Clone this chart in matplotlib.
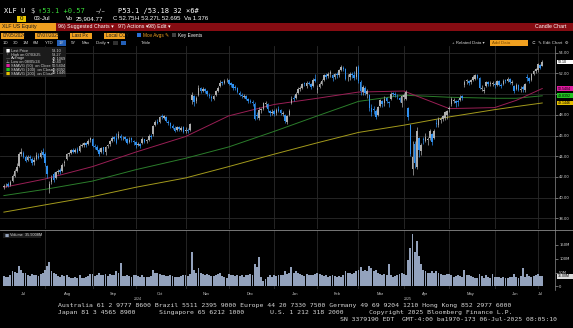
import matplotlib
matplotlib.use('Agg')
import matplotlib.pyplot as plt
from matplotlib.patches import Rectangle
from matplotlib.transforms import blended_transform_factory
import numpy as np
import pandas as pd

# ---- data (XLF US Equity, daily, 05 Jul 2024 - 03 Jul 2025) ----
holidays = ['2024-09-02', '2024-11-28', '2024-12-25', '2025-01-01', '2025-01-09',
            '2025-01-20', '2025-02-17', '2025-04-18', '2025-05-26', '2025-06-19']

opens = [
    41.00, 41.20, 41.30, 41.20, 41.60, 42.10, 42.60, 43.10, 44.20, 44.30, 43.90, 43.60, 43.95, 43.70, 43.40, 43.70, 44.05, 43.90, 44.40,
    44.20, 43.10, 40.90, 41.50, 42.30, 41.90, 42.50, 42.65, 42.60, 43.30, 43.70, 44.20, 44.30, 44.60, 44.40, 44.70, 44.50, 45.00, 45.05, 45.30, 45.20, 45.60,
    45.70, 44.95, 44.90, 44.65, 44.40, 44.85, 44.40, 44.95, 45.15, 45.50, 45.85, 45.75, 45.80, 46.00, 45.85, 45.90, 45.70, 45.40, 45.75, 45.50,
    45.40, 45.10, 45.15, 45.30, 45.65, 45.45, 45.60, 45.95, 46.10, 47.00, 47.35, 47.30, 47.90, 47.70, 47.80, 47.35, 47.20, 46.95, 46.75, 46.50, 46.85, 46.55, 46.80,
    46.40, 46.55, 46.50, 49.40, 49.80, 49.30, 49.90, 50.55, 50.35, 50.50, 50.30, 49.95, 49.70, 49.55, 49.90, 50.35, 50.80, 51.15, 51.10, 51.35,
    51.40, 51.05, 50.95, 50.65, 50.55, 50.15, 49.95, 49.75, 49.85, 49.55, 49.30, 49.25, 49.05, 48.00, 47.70, 48.45, 48.60, 49.05, 49.00, 48.40, 48.20,
    48.40, 48.15, 48.60, 48.45, 48.10, 48.00, 47.30, 48.00, 49.10, 49.60, 49.60, 50.10, 50.50, 50.60, 51.05, 50.80, 51.10, 51.00, 50.80, 51.50,
    50.40, 50.70, 51.00, 51.40, 51.85, 51.75, 51.90, 51.80, 51.65, 51.95, 51.85, 52.30, 52.55, 52.40, 51.55, 51.65, 51.95, 51.85, 51.70,
    52.60, 51.20, 50.20, 50.60, 50.00, 49.90, 48.70, 48.60, 48.40, 48.00, 48.90, 49.30, 49.10, 49.60, 49.20, 49.50, 50.10, 50.00, 49.85, 49.60, 49.10,
    49.70, 49.50, 48.70, 47.00, 42.80, 45.20, 43.00, 45.80, 44.50, 45.70, 45.50, 45.60, 45.80, 46.10, 45.80, 47.20, 47.00, 47.50, 47.60, 47.70, 48.00,
    48.60, 49.00, 49.30, 49.30, 49.30, 49.40, 49.80, 50.90, 51.30, 51.30, 51.20, 51.40, 51.50, 51.80, 51.60, 50.50, 50.30, 50.80, 51.20, 51.00, 51.00,
    51.00, 50.90, 51.30, 50.90, 51.00, 51.35, 51.30, 51.50, 51.10, 50.80, 50.50, 50.90, 50.40, 50.70, 50.40, 51.70, 51.60, 51.40, 51.90, 52.20,
    52.30, 52.80, 52.75,
]
highs = [
    41.35, 41.45, 41.50, 41.70, 42.30, 42.80, 43.30, 44.40, 44.80, 44.50, 44.10, 44.10, 44.10, 43.90, 43.90, 44.40, 44.30, 44.60, 44.80,
    44.40, 43.20, 41.60, 42.20, 42.50, 42.60, 42.80, 42.90, 43.30, 43.60, 44.30, 44.40, 44.70, 44.80, 44.80, 44.90, 45.20, 45.30, 45.40, 45.40, 45.70, 45.90,
    45.80, 45.20, 45.10, 44.80, 44.90, 44.90, 45.00, 45.20, 45.60, 45.95, 46.00, 46.20, 46.40, 46.10, 46.00, 46.00, 45.80, 45.90, 45.90, 45.60,
    45.50, 45.40, 45.30, 45.90, 45.70, 45.70, 46.10, 46.10, 47.00, 47.50, 47.60, 47.90, 48.10, 48.00, 47.90, 47.50, 47.30, 47.10, 46.90, 46.95, 46.90, 46.90, 46.90,
    46.80, 46.70, 47.20, 50.20, 49.90, 49.80, 50.90, 50.70, 50.70, 50.60, 50.40, 50.10, 49.90, 49.90, 50.40, 50.80, 51.40, 51.30, 51.50, 51.60,
    51.50, 51.20, 51.00, 50.90, 50.70, 50.30, 50.10, 50.00, 49.90, 49.60, 49.50, 49.40, 49.20, 48.30, 48.80, 48.70, 49.20, 49.30, 49.10, 48.50, 48.60,
    48.60, 48.70, 48.90, 48.60, 48.40, 48.10, 48.00, 48.60, 49.80, 49.90, 50.20, 50.70, 50.80, 51.10, 51.20, 51.30, 51.30, 51.10, 51.60, 51.90,
    50.90, 51.20, 51.50, 51.90, 52.00, 52.10, 52.30, 51.90, 52.00, 52.10, 52.40, 52.80, 52.70, 52.50, 51.90, 52.10, 52.10, 52.20, 52.70,
    52.80, 51.40, 50.90, 50.80, 50.50, 50.00, 49.00, 48.90, 48.60, 48.90, 49.50, 49.40, 49.80, 49.70, 49.30, 50.20, 50.20, 50.20, 50.00, 49.70, 49.90,
    50.10, 50.40, 48.80, 47.10, 45.50, 45.50, 46.80, 45.90, 45.30, 45.90, 46.20, 45.90, 46.60, 46.20, 46.60, 47.60, 47.80, 47.80, 48.00, 48.40, 48.50,
    48.90, 49.70, 49.60, 49.40, 49.50, 49.90, 49.90, 51.40, 51.50, 51.40, 51.50, 51.80, 51.90, 51.90, 51.70, 50.90, 50.70, 51.30, 51.30, 51.30, 51.30,
    51.20, 51.40, 51.40, 51.10, 51.50, 51.50, 51.70, 51.60, 51.40, 50.90, 51.10, 51.00, 50.80, 50.90, 51.10, 51.90, 51.70, 52.00, 52.30, 52.50,
    53.00, 52.90, 53.27,
]
lows = [
    40.85, 41.00, 41.00, 41.10, 41.50, 42.00, 42.50, 43.00, 44.00, 43.80, 43.40, 43.50, 43.60, 43.20, 43.20, 43.60, 43.70, 43.80, 43.90,
    43.10, 41.90, 40.40, 41.30, 41.50, 41.80, 42.30, 42.30, 42.50, 43.10, 43.60, 44.00, 44.20, 44.30, 44.30, 44.30, 44.40, 44.90, 44.90, 44.90, 45.10, 45.40,
    44.90, 44.70, 44.50, 44.00, 44.30, 44.20, 44.10, 44.80, 45.00, 45.40, 45.50, 45.20, 45.70, 45.60, 45.60, 45.50, 45.20, 45.30, 45.40, 45.10,
    44.80, 45.00, 44.80, 45.20, 45.30, 45.30, 45.50, 45.70, 46.00, 46.90, 47.10, 47.20, 47.60, 47.60, 47.30, 47.00, 46.70, 46.60, 46.30, 46.40, 46.40, 46.40, 46.20,
    46.20, 46.20, 46.40, 49.00, 48.90, 49.10, 49.80, 50.10, 50.20, 50.10, 49.80, 49.60, 49.30, 49.40, 49.80, 50.20, 50.70, 50.90, 51.00, 51.20,
    50.90, 50.70, 50.40, 50.40, 50.10, 49.80, 49.60, 49.60, 49.40, 49.10, 49.10, 48.90, 47.50, 47.60, 47.50, 48.20, 48.50, 48.80, 48.30, 47.90, 48.00,
    47.90, 48.00, 48.30, 48.00, 47.90, 47.20, 47.10, 47.90, 49.00, 49.30, 49.50, 50.00, 50.30, 50.50, 50.80, 50.60, 50.90, 50.50, 50.70, 51.20,
    50.10, 50.60, 50.90, 51.30, 51.50, 51.60, 51.70, 51.30, 51.50, 51.60, 51.70, 52.20, 52.20, 51.40, 51.30, 51.40, 51.60, 51.40, 51.50,
    51.10, 49.90, 49.90, 49.90, 49.60, 48.40, 47.90, 48.10, 47.60, 47.90, 48.80, 48.80, 48.90, 49.10, 48.80, 49.40, 49.80, 49.70, 49.50, 49.20, 48.80,
    49.40, 49.40, 47.50, 44.00, 42.20, 42.90, 42.80, 43.90, 44.10, 45.20, 45.40, 45.10, 45.60, 45.10, 45.70, 46.80, 46.80, 47.20, 47.40, 47.50, 47.60,
    48.30, 48.90, 49.10, 48.80, 48.90, 49.30, 49.40, 50.70, 51.00, 50.90, 51.00, 51.30, 51.40, 51.50, 50.50, 50.30, 50.10, 50.70, 50.80, 50.80, 50.80,
    50.60, 50.80, 50.80, 50.60, 50.90, 51.10, 51.20, 51.00, 50.90, 50.10, 50.40, 50.30, 50.20, 50.20, 50.20, 51.30, 51.10, 51.30, 51.80, 52.00,
    52.10, 52.40, 52.695,
]
closes = [
    41.10, 41.25, 41.15, 41.50, 42.05, 42.55, 43.00, 44.25, 44.40, 43.95, 43.55, 43.90, 43.80, 43.30, 43.60, 44.10, 43.85, 44.35, 44.10,
    43.30, 42.30, 41.30, 41.90, 41.70, 42.50, 42.60, 42.45, 43.20, 43.40, 44.20, 44.30, 44.60, 44.40, 44.65, 44.40, 45.00, 45.10, 45.25, 45.10, 45.50, 45.75,
    45.00, 44.90, 44.60, 44.20, 44.80, 44.55, 44.90, 45.10, 45.50, 45.80, 45.70, 45.30, 46.10, 45.80, 45.90, 45.65, 45.30, 45.60, 45.60, 45.40,
    45.10, 45.20, 45.00, 45.70, 45.40, 45.55, 46.00, 45.90, 46.90, 47.30, 47.25, 47.80, 47.75, 47.85, 47.40, 47.20, 46.90, 46.70, 46.40, 46.80, 46.60, 46.75, 46.30,
    46.50, 46.40, 47.10, 49.90, 49.20, 49.60, 50.60, 50.30, 50.50, 50.30, 50.00, 49.80, 49.60, 49.80, 50.30, 50.60, 51.10, 51.10, 51.30, 51.40,
    51.00, 50.90, 50.60, 50.55, 50.20, 49.90, 49.80, 49.85, 49.50, 49.30, 49.25, 49.10, 47.60, 47.90, 48.50, 48.55, 49.10, 49.10, 48.60, 48.20, 48.30,
    48.10, 48.50, 48.40, 48.20, 48.20, 47.40, 47.90, 48.40, 49.50, 49.50, 50.00, 50.50, 50.60, 51.00, 51.00, 51.10, 51.00, 50.70, 51.40, 51.30,
    50.60, 51.00, 51.30, 51.80, 51.70, 51.90, 52.10, 51.60, 51.90, 51.80, 52.30, 52.60, 52.40, 51.50, 51.60, 51.90, 51.80, 51.60, 52.60,
    51.30, 50.30, 50.70, 50.10, 50.30, 48.70, 48.30, 48.50, 47.80, 48.80, 49.40, 49.00, 49.50, 49.30, 49.10, 50.00, 50.00, 49.90, 49.80, 49.40, 49.80,
    49.90, 50.20, 47.80, 44.20, 43.90, 43.30, 46.40, 44.60, 45.10, 45.60, 45.90, 45.60, 46.40, 45.40, 46.40, 47.10, 47.60, 47.60, 47.90, 48.30, 48.40,
    48.70, 49.50, 49.40, 49.10, 49.20, 49.60, 49.60, 51.20, 51.30, 51.10, 51.40, 51.70, 51.80, 51.60, 50.60, 50.60, 50.40, 51.20, 51.00, 51.10, 51.10,
    50.90, 51.30, 50.90, 50.80, 51.30, 51.30, 51.50, 51.20, 51.20, 50.30, 50.90, 50.40, 50.50, 50.50, 51.00, 51.60, 51.30, 51.90, 52.20, 52.40,
    52.90, 52.53, 53.10,
]
volumes_m = [
    38, 35, 33, 40, 55, 52, 48, 72, 58, 50, 47, 40, 36, 45, 42, 40, 38, 45, 50,
    60, 75, 88, 55, 48, 45, 38, 33, 40, 38, 42, 35, 30, 30, 33, 32, 40, 30, 32, 35, 38, 45,
    45, 38, 40, 48, 42, 40, 45, 38, 45, 42, 40, 55, 50, 85, 38, 36, 40, 38, 35, 40,
    40, 38, 35, 40, 35, 33, 35, 38, 60, 50, 48, 45, 42, 40, 38, 36, 40, 38, 35, 33, 35, 38, 42,
    40, 38, 45, 125, 60, 50, 65, 48, 45, 42, 45, 40, 38, 38, 42, 45, 50, 38, 35, 30,
    45, 40, 42, 38, 40, 38, 40, 35, 40, 42, 45, 40, 80, 70, 105, 35, 20, 28, 35, 40, 35,
    40, 38, 42, 40, 40, 55, 45, 48, 70, 50, 55, 48, 45, 40, 38, 45, 40, 42, 40, 45,
    50, 45, 40, 38, 42, 35, 38, 42, 38, 35, 38, 35, 40, 55, 50, 48, 45, 50, 55,
    60, 70, 55, 60, 55, 75, 65, 55, 60, 50, 45, 40, 45, 40, 80, 40, 35, 38, 40, 45, 50,
    45, 42, 95, 140, 190, 125, 165, 110, 80, 60, 55, 48, 50, 55, 48, 55, 50, 45, 40, 42, 45,
    45, 40, 35, 38, 40, 38, 35, 60, 42, 40, 38, 35, 30, 32, 45, 38, 32, 40, 35, 32, 45,
    35, 33, 35, 32, 35, 30, 32, 35, 33, 45, 35, 32, 38, 65, 35, 45, 38, 35, 38, 40,
    45, 38, 36,
]

# moving averages at month starts
ma_dates = ['2024-07-05', '2024-08-01', '2024-09-03', '2024-10-01', '2024-11-01', '2024-12-02',
            '2025-01-02', '2025-02-03', '2025-03-03', '2025-04-01', '2025-05-01', '2025-06-02',
            '2025-06-16', '2025-07-03']
sma50 = [41.0, 41.8, 43.0, 44.4, 45.9, 47.9, 49.0, 49.6, 50.2, 50.3, 48.6, 48.7, 49.4, 50.5404]
sma100 = [40.2, 40.8, 41.6, 42.7, 43.8, 44.9, 46.4, 47.9, 49.3, 49.9, 49.7, 49.6, 49.6, 49.8392]
sma200 = [38.6, 39.3, 40.1, 41.0, 41.9, 43.0, 44.2, 45.3, 46.3, 47.0, 47.8, 48.5, 48.8, 49.1446]

price_ticks = [38, 40, 42, 44, 46, 48, 50, 52, 54]
vol_ticks = [0, 50, 100, 150]
vol_tick_labels = ['0', '50M', '100M', '150M']

# ---- layout ----
W, H = 573, 328
BG = 'black'
UP, DOWN = '#adadad', '#2f8fee'
GRID = '#2a2a2a'
MONO = 'DejaVu Sans Mono'
UI = ['Liberation Sans', 'DejaVu Sans']

fig = plt.figure(figsize=(W / 100, H / 100), dpi=100, facecolor=BG)


def fx(px):
    return px / W


def fy(py):
    return 1 - py / H


ax = fig.add_axes([0, fy(229), fx(555), (229 - 46) / H], facecolor=BG)
axv = fig.add_axes([0, fy(289), fx(555), (289 - 230) / H], facecolor=BG, sharex=ax)

days = pd.bdate_range('2024-07-05', '2025-07-03')
days = days[~days.isin(pd.to_datetime(holidays))]
n = min(len(days), len(closes))
days = days[:n]
x = np.arange(n)
o = np.array(opens[:n])
h = np.array(highs[:n])
l = np.array(lows[:n])
c = np.array(closes[:n])
v = np.array(volumes_m[:n])

month_start = np.flatnonzero(np.r_[True, days.month[1:] != days.month[:-1]])
month_end = np.r_[month_start[1:], n]

for a in (ax, axv):
    for s in a.spines.values():
        s.set_visible(False)
    for ms in month_start[1:]:
        a.axvline(ms, color=GRID, lw=0.6, zorder=0)
for t in price_ticks:
    ax.axhline(t, color=GRID, lw=0.6, zorder=0)

# candles
col = np.where(c >= o, UP, DOWN)
ax.vlines(x, l, h, colors=col, lw=0.5, zorder=3)
ax.bar(x, np.maximum(np.abs(c - o), 0.05), bottom=np.minimum(o, c), width=0.72,
       color=col, linewidth=0, zorder=4)

# moving averages
ma_x = days.get_indexer(pd.to_datetime(ma_dates))
ax.plot(ma_x, sma200, color='#a39a1c', lw=0.7, zorder=2)
ax.plot(ma_x, sma100, color='#2b7d2b', lw=0.7, zorder=2)
ax.plot(ma_x, sma50, color='#9a1f55', lw=0.7, zorder=2)

ax.set_xlim(-1.8, 254.9)
ax.set_ylim(36.97, 54.65)
ax.yaxis.tick_right()
ax.set_yticks(price_ticks)
ax.set_yticklabels(['%.2f' % t for t in price_ticks])
ax.tick_params(axis='y', colors='#9a9a9a', labelcolor='#d8d8d8', labelsize=2.7,
               length=1.8, width=0.5, pad=1.2)
ax.tick_params(axis='x', bottom=False, labelbottom=False)

# volume
axv.bar(x, v, width=0.88, color='#93a2bc', linewidth=0, zorder=3)
axv.set_ylim(-9, 203)
axv.yaxis.tick_right()
axv.set_yticks(vol_ticks)
axv.set_yticklabels(vol_tick_labels)
axv.tick_params(axis='y', colors='#9a9a9a', labelcolor='#d8d8d8', labelsize=2.7,
                length=1.8, width=0.5, pad=1.2)
axv.tick_params(axis='x', bottom=False, labelbottom=False)

# month / year labels
tr = blended_transform_factory(axv.transData, fig.transFigure)
for s, e in zip(month_start, month_end):
    axv.text((s + e - 1) / 2, fy(294), days[s].strftime('%b'), transform=tr,
             color='#c8c8c8', fontsize=2.9, ha='center', va='center', family=UI)
for yr in (2024, 2025):
    idx = np.flatnonzero(days.year == yr)
    axv.text(idx.mean(), fy(298.5), str(yr), transform=tr, color='#c8c8c8',
             fontsize=2.6, ha='center', va='center', family=UI)

# ---- overlay for terminal chrome ----
ov = fig.add_axes([0, 0, 1, 1])
ov.set_xlim(0, W)
ov.set_ylim(H, 0)
ov.axis('off')
ov.patch.set_alpha(0)


def txt(px, py, s, color='white', size=3.6, family=UI, ha='left', **kw):
    ov.text(px, py, s, color=color, fontsize=size, family=family, ha=ha, va='center', **kw)


def box(px, py, w, hh, color, **kw):
    ov.add_patch(Rectangle((px, py), w, hh, facecolor=color, edgecolor='none', **kw))


# separators / axis line
ov.plot([0, W], [229.8, 229.8], color='#8a8a8a', lw=0.6)
ov.plot([555, 555], [46, 290], color='#8a8a8a', lw=0.5)

# row 1
GREEN = '#38d838'
txt(4, 11, 'XLF U', size=5, family=MONO)
txt(30, 11, '$', size=5, family=MONO, color='#c8c8c8')
txt(38, 11, '\u2191%.1f +0.57' % c[-1], size=5, family=MONO, color=GREEN)
txt(96, 11, '~\u2215~', size=4, family=MONO)
txt(118, 11, 'P53.1 /53.18 32 \u00d76#', size=5, family=MONO)
# row 2
box(17, 16, 9, 6, '#e8c400')
txt(19.5, 19, '0', size=4.4, color='black')
txt(34, 19, '03-Jul', size=4.4)
txt(66, 19, 'Vo', size=4.4)
txt(76, 19, '25,904.77', size=4.4)
txt(113, 19, 'C %.2f' % o[-1], size=4.4)
txt(135, 19, 'H %.2f' % h[-1], size=4.4)
txt(157, 19, 'L %.3f' % l[-1], size=4.4)
txt(184, 19, 'Va 1.376', size=4.4)

# row 3: red command bar
box(0, 22.5, W, 8, '#860c12')
box(0, 22.5, 56, 8, '#f0a020')
txt(2, 26.5, 'XLF US Equity', color='#1a1a1a', size=3.8)
txt(58, 26.5, '96) Suggested Charts \u25be', size=3.8)
txt(118, 26.5, '97) Actions \u25be', size=3.8)
txt(148, 26.5, '98) Edit \u25be', size=3.8)
txt(566, 26.5, 'Candle Chart', size=3.8, ha='right')

# row 4: date / price fields
for bx, bw, label in [(1, 23, '07/05/2024'), (35, 23, '07/07/2025'),
                      (70, 22, 'Last Px'), (104, 21, 'Local CCY')]:
    box(bx, 32.5, bw, 6, '#f0a020')
    txt(bx + 1.5, 35.5, label, color='#1a1a1a', size=3.4)
box(137, 33.3, 4, 4, '#2a6fd6')
txt(143, 35.5, 'Mov Avgs \u270e', color='#f0a020', size=3.4)
box(172, 33.3, 4, 4, '#404040')
txt(178, 35.5, 'Key Events', size=3.4)

# row 5: range buttons
for bx, label in [(3, '1D'), (13, '3D'), (23, '1M'), (33, '6M'), (45, 'YTD'),
                  (59, '1Y'), (71, '5Y'), (82, 'Max'), (96, 'Daily \u25be')]:
    if label == '1Y':
        box(bx - 2, 40, 9, 5.5, '#2460b8')
    txt(bx, 42.7, label, color='#d0d0d0', size=3.2)
box(113, 40.5, 4.5, 4.5, '#303030')
box(121, 40.5, 4.5, 4.5, '#2460b8')
txt(141, 42.7, 'Table', color='#d0d0d0', size=3.2)
txt(452, 42.7, '+ Related Data \u25be', color='#d0d0d0', size=3.2)
box(490, 40, 38, 5.5, '#f0a020')
txt(492, 42.7, 'Add Data', color='#7a4a00', size=3.2)
txt(532, 42.7, '\u2282  \u270e Edit Chart  \u2699', color='#d0d0d0', size=3.2)

# price legend
box(3, 47, 63, 30, '#1b1b1b', zorder=5)
leg = [('white', '\u25a0', 'Last Price', '%.2f' % c[-1]),
       ('#d0d0d0', '\u22a4', 'High on 07/03/25', '%.2f' % h.max()),
       ('#d0d0d0', '\u2014', 'Average', '%.4f' % c.mean()),
       ('#d0d0d0', '\u22a5', 'Low on 08/05/24', '%.2f' % l.min()),
       ('#e01aa0', '\u25a0', 'SMAVG (50)  on Close', '%.4f' % sma50[-1]),
       ('#22c422', '\u25a0', 'SMAVG (100)  on Close', '%.4f' % sma100[-1]),
       ('#e6c000', '\u25a0', 'SMAVG (200)  on Close', '%.4f' % sma200[-1])]
for i, (mc, mk, name, val) in enumerate(leg):
    yy = 51 + i * 3.75
    ov.text(6, yy, mk, color=mc, fontsize=3.2, family='DejaVu Sans', ha='left', va='center', zorder=6)
    ov.text(11, yy, name, color='#d8d8d8', fontsize=2.8, family=UI, ha='left', va='center', zorder=6)
    ov.text(52, yy, val, color='#d8d8d8', fontsize=2.8, family=UI, ha='left', va='center', zorder=6)

# volume legend
box(3, 233, 38, 5, '#1b1b1b', zorder=5)
ov.text(5, 235.5, '\u25a0', color='#93a2bc', fontsize=3.2, family='DejaVu Sans', va='center', zorder=6)
ov.text(10, 235.5, 'Volume  %.4fM' % 35.9008, color='#d8d8d8', fontsize=2.8, family=UI,
        va='center', zorder=6)


# right-axis value flags
def flag(val, txtval, fc, tc, axis=ax):
    yy = axis.transData.transform((0, val))[1]
    py = H - yy
    box(556.5, py - 2.3, 16.5, 4.6, fc, zorder=7)
    ov.text(558, py, txtval, color=tc, fontsize=2.6, family=UI, va='center', zorder=8)


flag(c[-1], '%.2f' % c[-1], 'white', 'black')
flag(sma50[-1], '%.4f' % sma50[-1], '#e01aa0', 'black')
flag(sma100[-1], '%.4f' % sma100[-1], '#22c422', 'black')
flag(sma200[-1], '%.4f' % sma200[-1], '#e6c000', 'black')
flag(v[-1], '%.2fM' % v[-1], '#dcdcdc', 'black', axis=axv)

# footer
FC = '#d4d4d4'
txt(58, 305.5, 'Australia 61 2 9777 8600 Brazil 5511 2395 9000 Europe 44 20 7330 7500 '
    'Germany 49 69 9204 1210 Hong Kong 852 2977 6000', color=FC, size=4.65, family=MONO)
txt(58, 312.5, 'Japan 81 3 4565 8900', color=FC, size=4.65, family=MONO)
txt(159, 312.5, 'Singapore 65 6212 1000', color=FC, size=4.65, family=MONO)
txt(270, 312.5, 'U.S. 1 212 318 2000', color=FC, size=4.65, family=MONO)
txt(369, 312.5, 'Copyright 2025 Bloomberg Finance L.P.', color=FC, size=4.65, family=MONO)
txt(557, 319.5, 'SN 3379190 EDT  GMT-4:00 ba1970-173 06-Jul-2025 08:05:10', color=FC,
    size=4.65, family=MONO, ha='right')

fig.savefig('out.png', dpi=100, facecolor=BG)
